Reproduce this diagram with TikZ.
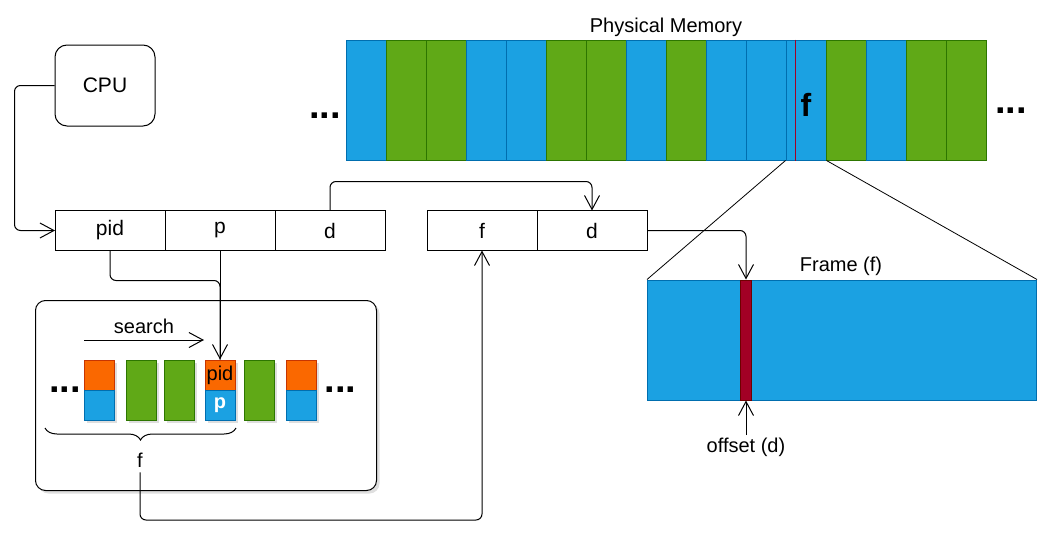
\documentclass[tikz,border=0pt]{standalone}
\usepackage{fontspec}
\setmainfont{Liberation Sans}
\usepackage{tikz}
\usetikzlibrary{positioning}
\usetikzlibrary{arrows.meta, shadows, decorations.pathreplacing}

\definecolor{azul}{HTML}{1BA1E2}
\definecolor{azulb}{HTML}{006EAF}
\definecolor{verde}{HTML}{60A917}
\definecolor{verdeb}{HTML}{2D7600}
\definecolor{naranja}{HTML}{FA6800}
\definecolor{naranjab}{HTML}{C73500}
\definecolor{rojo}{HTML}{A20025}
\definecolor{rojob}{HTML}{6F0000}

\tikzset{
	texto/.style={font=\fontsize{20}{24}\selectfont},
	celda/.style={draw, font=\fontsize{21}{25}\selectfont, minimum width=110pt, minimum height=40pt, inner sep=0pt, outer sep=0pt},
	bloque/.style={draw, minimum width=40pt, minimum height=120pt, inner sep=0pt},
	puntos/.style={font=\fontsize{38}{44}\selectfont\bfseries, inner sep=0pt, anchor=base},
	mitad/.style={draw, minimum width=30pt, minimum height=30pt, inner sep=0pt, drop shadow={shadow xshift=3pt, shadow yshift=-3pt, fill=black!25}},
	entrada/.style={mitad, minimum height=60pt},
	flecha/.style={-{Straight Barb[length=14pt, width=15pt]}, rounded corners=6pt},
}

\begin{document}
\begin{tikzpicture}[x=1pt, y=-1pt, line width=1pt]
			\useasboundingbox (0,0) rectangle (1043,538);
			
			% CPU y direccion logica
			\node[draw, rounded corners=12pt, minimum width=100pt, minimum height=81pt, font=\fontsize{21}{25}\selectfont] (cpu) at (105,85.5) {CPU};
			\node[celda] (pid) at (110,230.5) {pid};
			\node[celda, right=0pt of pid] (p) {p};
			\node[celda, right=0pt of p] (d1) {d};
			
			% Direccion fisica
			\node[celda] (fc) at (482,230.5) {f};
			\node[celda, right=0pt of fc] (d2) {d};
			
			% Memoria fisica
			\node[texto] (titmem) at (666,27.5) {Physical Memory};
			\foreach \relleno/\borde [count=\i from 0] in {azul/azulb, verde/verdeb, verde/verdeb, azul/azulb, azul/azulb, verde/verdeb, verde/verdeb, azul/azulb, verde/verdeb, azul/azulb, azul/azulb, azul/azulb, verde/verdeb, azul/azulb, verde/verdeb, verde/verdeb}
				\node[bloque, fill=\relleno, draw=\borde] (m\i) at ({366+40*\i},100) {};
			\draw[rojo] ([xshift=10pt]m11.north west) -- ([xshift=10pt]m11.south west);
			\node[font=\fontsize{32}{38}\selectfont\bfseries] (fmem) at (806,105) {f};
			\node[puntos] (pts1) at (325,118) {...};
			\node[puntos] (pts2) at (1011,113.3) {...};
			
			% Marco ampliado
			\node[fill=azul, draw=azulb, minimum width=389pt, minimum height=120pt, inner sep=0pt] (marco) at (842,340) {};
			\node[fill=rojo, draw=rojob, minimum width=11pt, minimum height=120pt, inner sep=0pt] (franja) at (746,340) {};
			\node[texto] (titmarco) at (841,266) {Frame (f)};
			\node[texto, inner sep=2pt] (offs) at (746,447) {offset (d)};
			\draw[line width=0.8pt] (m11.south west) -- (marco.north west);
			\draw[line width=0.8pt] (m11.south east) -- (marco.north east);
			
			% Tabla de paginas invertida
			\node[draw, fill=white, rounded corners=10pt, minimum width=341pt, minimum height=190pt, drop shadow={shadow xshift=3pt, shadow yshift=-3pt, fill=black!25}] (tabla) at (206,395.5) {};
			\node[mitad, fill=naranja, draw=naranjab] (e1a) at (99,375) {};
			\node[mitad, fill=azul, draw=azulb] (e1b) at (99,405) {};
			\node[entrada, fill=verde, draw=verdeb] (e2) at (141,390) {};
			\node[entrada, fill=verde, draw=verdeb] (e3) at (179,390) {};
			\node[mitad, fill=naranja, draw=naranjab, texto] (e4a) at (220,375) {pid};
			\node[mitad, fill=azul, draw=azulb, text=white, font=\fontsize{20}{24}\selectfont\bfseries] (e4b) at (220,405) {p};
			\node[entrada, fill=verde, draw=verdeb] (e5) at (259,390) {};
			\node[mitad, fill=naranja, draw=naranjab] (e6a) at (301,375) {};
			\node[mitad, fill=azul, draw=azulb] (e6b) at (301,405) {};
			\node[puntos] (pts3) at (65,392) {...};
			\node[puntos] (pts4) at (340.5,392) {...};
			
			% Busqueda y llave
			\coordinate (bini) at (84,340);
			\coordinate (bfin) at (204,340);
			\node[texto] (busq) at (144,326.3) {search};
			\draw[flecha] (bini) -- (bfin);
			\coordinate (llini) at (45,428);
			\coordinate (llfin) at (236,428);
			\draw[decorate, decoration={brace, amplitude=12pt}] (llfin) -- (llini);
			\node[texto, inner sep=4pt] (etqf) at (140,460.7) {f};
			\coordinate (bajof) at (140,520);
			
			% Conectores
			\draw[flecha] (cpu.west) -- ++(-40,0) |- (pid.west);
			\draw[rounded corners=6pt] (pid.south) -- ++(0,30) -| (e4a.north);
			\draw[flecha] (p.south) -- (e4a.north);
			\draw[flecha] (etqf.south) |- (fc.south |- bajof) -- (fc.south);
			\draw[flecha] (d1.north) -- ++(0,-29) -| (d2.north);
			\draw[flecha] (d2.east) -| (franja.north);
			\draw[flecha] (offs.north) -- (franja.south);
		\end{tikzpicture}
\end{document}
